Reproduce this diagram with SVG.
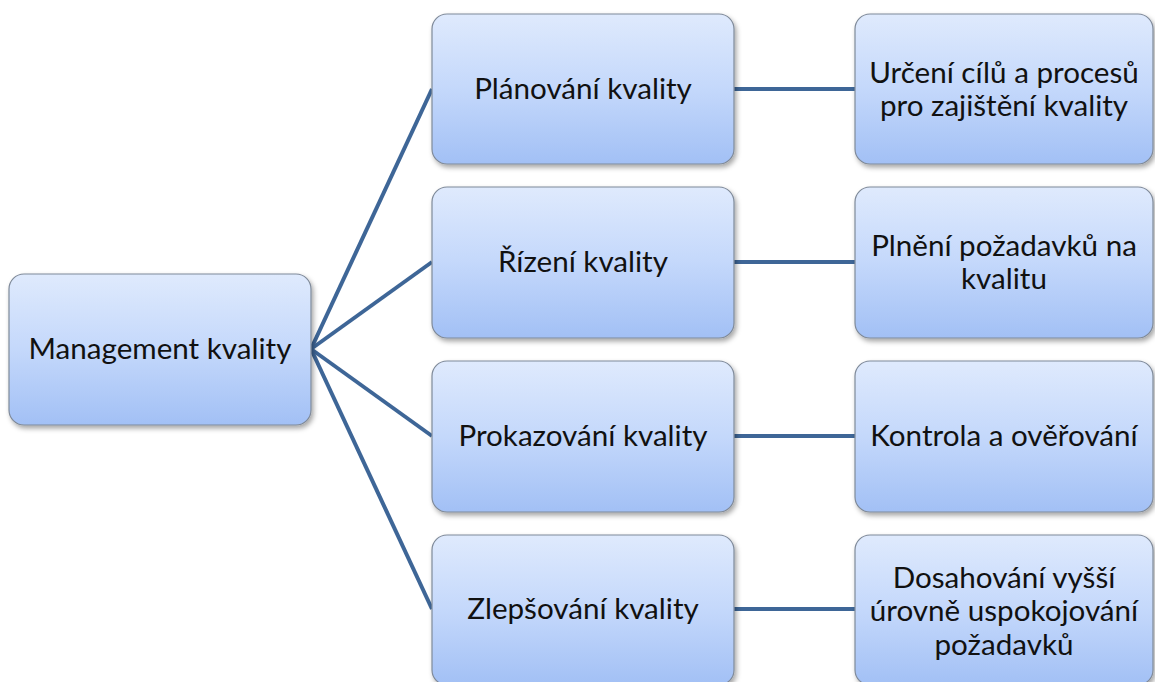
<svg xmlns="http://www.w3.org/2000/svg" width="1155" height="682" viewBox="0 0 1155 682">
  <defs>
    <linearGradient id="boxFill" x1="0" y1="0" x2="0" y2="1">
      <stop offset="0" stop-color="#dfeafd"/>
      <stop offset="0.5" stop-color="#c4d8fb"/>
      <stop offset="1" stop-color="#a2c0f5"/>
    </linearGradient>
    <filter id="shadow" x="-10%" y="-10%" width="125%" height="130%">
      <feDropShadow dx="2" dy="3" stdDeviation="2.5" flood-color="#000" flood-opacity="0.35"/>
    </filter>
  </defs>
  <style>
    .box { fill: url(#boxFill); stroke: #7f8a99; stroke-width: 1.2; filter: url(#shadow); }
    .label { font-family: Lato, "Open Sans", "Liberation Sans", sans-serif; font-size: 29.6px; fill: #111; text-anchor: middle; }
    .link { stroke: #3e6697; stroke-width: 4; fill: none; }
  </style>

  <rect width="1155" height="682" fill="#fff"/>

  <g id="connectors">
    <line class="link" x1="311" y1="349" x2="432" y2="89"/>
    <line class="link" x1="311" y1="349" x2="432" y2="262"/>
    <line class="link" x1="311" y1="349" x2="432" y2="436"/>
    <line class="link" x1="311" y1="349" x2="432" y2="609"/>
    <line class="link" x1="734" y1="89" x2="855" y2="89"/>
    <line class="link" x1="734" y1="262" x2="855" y2="262"/>
    <line class="link" x1="734" y1="436" x2="855" y2="436"/>
    <line class="link" x1="734" y1="609" x2="855" y2="609"/>
  </g>

  <g id="management-kvality">
    <rect class="box" x="9" y="274" width="302" height="151" rx="15"/>
    <text class="label" x="160" y="359">Management kvality</text>
  </g>

  <g id="planovani-kvality">
    <rect class="box" x="432" y="14" width="302" height="150" rx="15"/>
    <text class="label" x="583" y="99">Plánování kvality</text>
  </g>
  <g id="rizeni-kvality">
    <rect class="box" x="432" y="187" width="302" height="151" rx="15"/>
    <text class="label" x="583" y="272">Řízení kvality</text>
  </g>
  <g id="prokazovani-kvality">
    <rect class="box" x="432" y="361" width="302" height="151" rx="15"/>
    <text class="label" x="583" y="446">Prokazování kvality</text>
  </g>
  <g id="zlepsovani-kvality">
    <rect class="box" x="432" y="535" width="302" height="150" rx="15"/>
    <text class="label" x="583" y="619">Zlepšování kvality</text>
  </g>

  <g id="urceni-cilu">
    <rect class="box" x="855" y="14" width="298" height="150" rx="15"/>
    <text class="label" x="1004" y="83">Určení cílů a procesů</text>
    <text class="label" x="1004" y="116">pro zajištění kvality</text>
  </g>
  <g id="plneni-pozadavku">
    <rect class="box" x="855" y="187" width="298" height="151" rx="15"/>
    <text class="label" x="1004" y="256">Plnění požadavků na</text>
    <text class="label" x="1004" y="289">kvalitu</text>
  </g>
  <g id="kontrola-overovani">
    <rect class="box" x="855" y="361" width="298" height="151" rx="15"/>
    <text class="label" x="1004" y="446">Kontrola a ověřování</text>
  </g>
  <g id="dosahovani-urovne">
    <rect class="box" x="855" y="535" width="298" height="150" rx="15"/>
    <text class="label" x="1004" y="588">Dosahování vyšší</text>
    <text class="label" x="1004" y="621">úrovně uspokojování</text>
    <text class="label" x="1004" y="655">požadavků</text>
  </g>
</svg>
